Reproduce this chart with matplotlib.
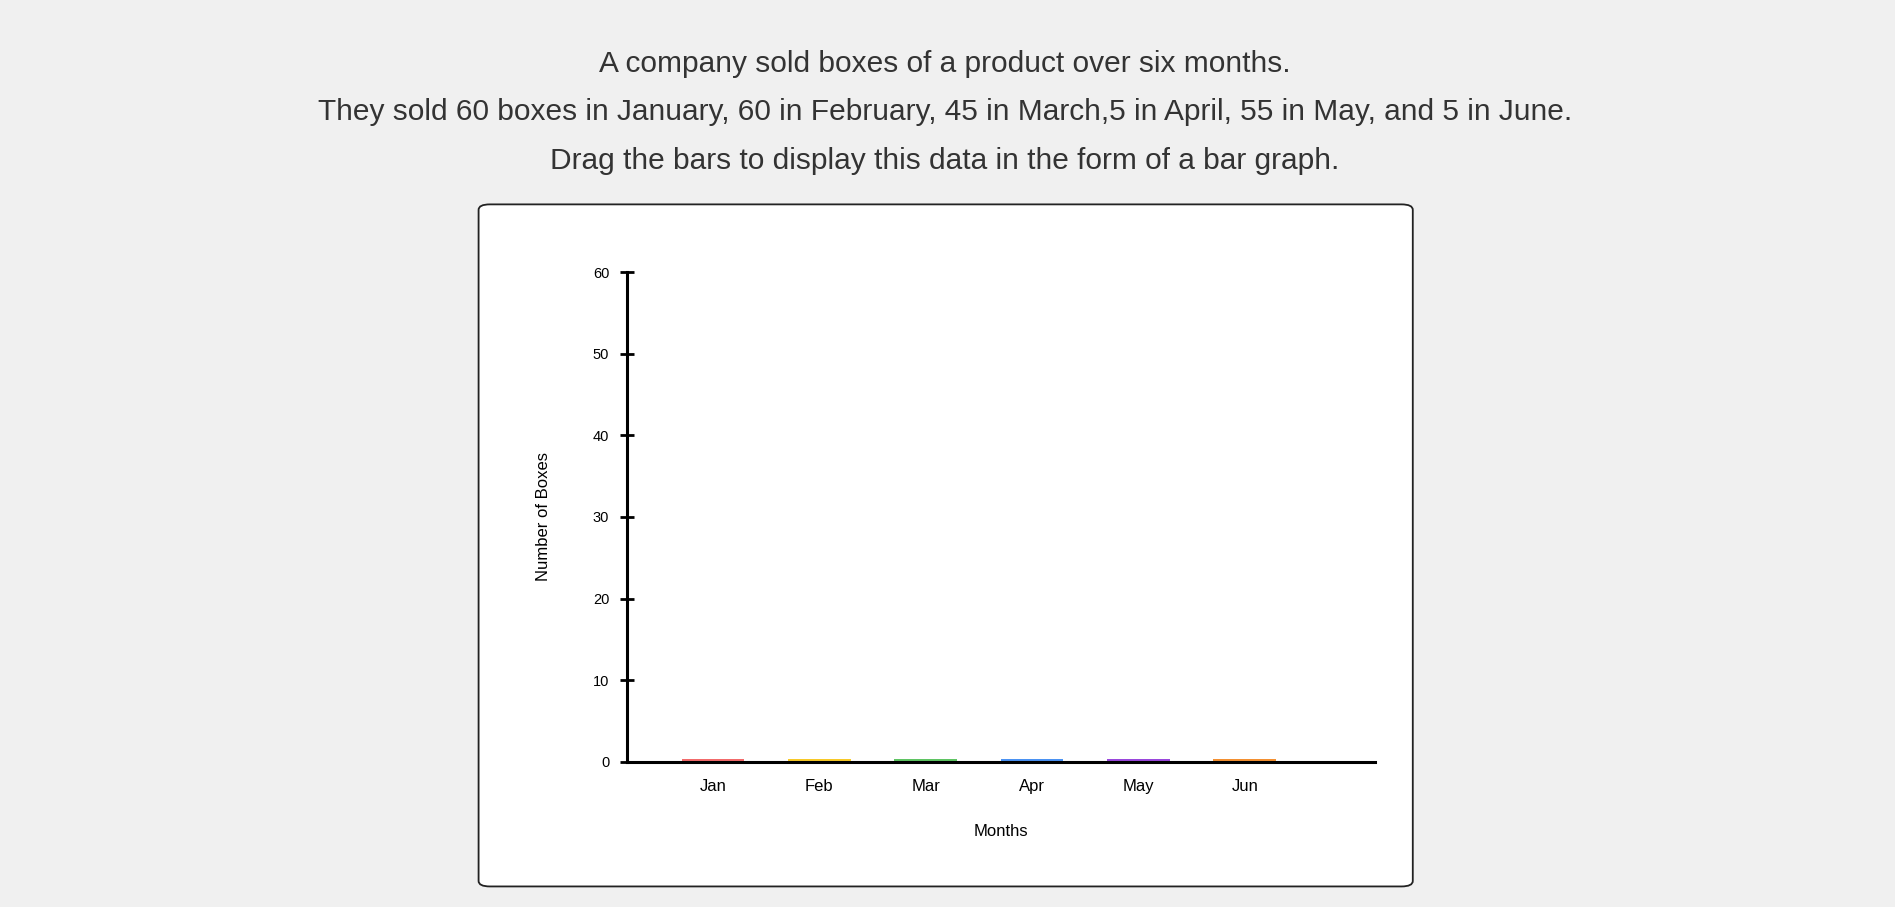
import matplotlib.pyplot as plt
from matplotlib.patches import FancyBboxPatch

months = ['Jan', 'Feb', 'Mar', 'Apr', 'May', 'Jun']
boxes = [0.4, 0.4, 0.4, 0.4, 0.4, 0.4]  # bars start empty (draggable)
colors = ['#f26b6b', '#f7c928', '#5fc463', '#4b92f2', '#9a48dc', '#f39032']
yticks = [0, 10, 20, 30, 40, 50, 60]

W, H = 1568, 750
fig = plt.figure(figsize=(18.95, 9.07), dpi=100)
fig.patch.set_facecolor('#f0f0f0')

lines = ['A company sold boxes of a product over six months.',
         'They sold 60 boxes in January, 60 in February, 45 in March,5 in April, 55 in May, and 5 in June.',
         'Drag the bars to display this data in the form of a bar graph.']
for txt, y in zip(lines, [53, 93, 133]):
    fig.text(782 / W, 1 - y / H, txt, ha='center', va='center',
             fontsize=21.5, color='#333333', family='Liberation Sans')

panel = FancyBboxPatch((396 / W, 1 - 733 / H), 773 / W, 564 / H,
                       boxstyle='round,pad=0,rounding_size=0.006',
                       transform=fig.transFigure, facecolor='white',
                       edgecolor='#222222', linewidth=1.3, zorder=-5)
fig.patches.append(panel)

ax = fig.add_axes([519 / W, 1 - 630 / H, (1138 - 519) / W, (630 - 225) / H])
ax.set_zorder(2)
ax.set_facecolor('none')
ax.bar(range(len(months)), boxes, width=0.59, color=colors)
ax.set_xlim(-0.807, 6.227)
ax.set_ylim(0, 60)
ax.set_yticks(yticks)
ax.set_xticks(range(len(months)))
ax.set_xticklabels(months)
for s in ['top', 'right']:
    ax.spines[s].set_visible(False)
ax.spines['left'].set_linewidth(2.2)
ax.spines['bottom'].set_linewidth(2.2)
ax.tick_params(axis='y', direction='inout', length=10, width=2, labelsize=10.5, pad=8)
ax.tick_params(axis='x', length=0, labelsize=12, pad=12)
ax.set_ylabel('Number of Boxes', fontsize=12, labelpad=30)
ax.set_xlabel('Months', fontsize=12, labelpad=14)
for lbl in ax.get_xticklabels() + ax.get_yticklabels() + [ax.xaxis.label, ax.yaxis.label]:
    lbl.set_family('Liberation Sans')
ax.xaxis.set_label_coords((828 - 519) / (1138 - 519), -(681 - 630) / (630 - 225))

fig.savefig('out.png', dpi=100, facecolor=fig.get_facecolor())
